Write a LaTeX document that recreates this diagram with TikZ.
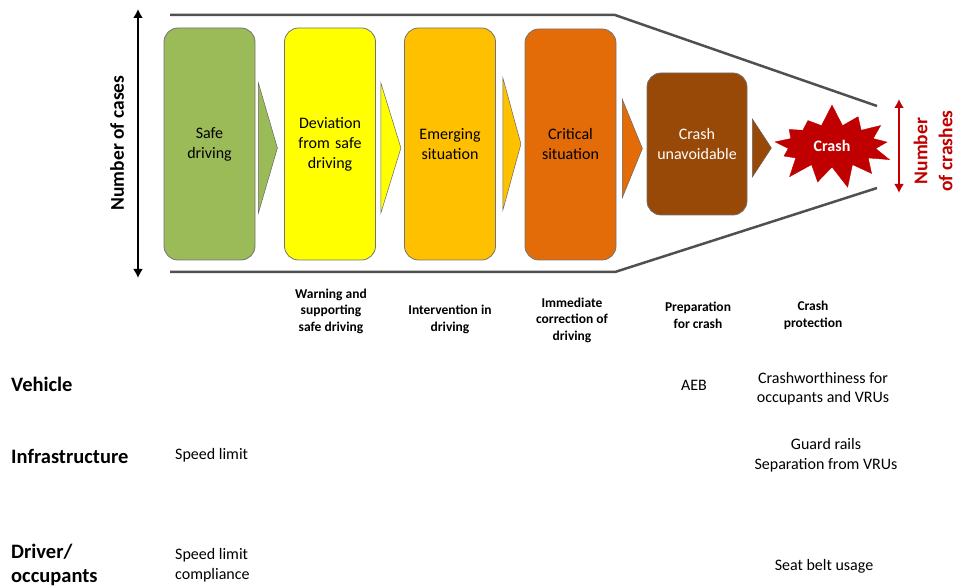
\documentclass[tikz,border=0pt]{standalone}
\usepackage{fontspec}
\setmainfont{Carlito}
\usetikzlibrary{shapes, shapes.symbols, arrows, arrows.meta}
\definecolor{safegreen}{HTML}{9BBB59}
\definecolor{devyellow}{HTML}{FFFF00}
\definecolor{emergamber}{HTML}{FFC000}
\definecolor{critorange}{HTML}{E36C09}
\definecolor{unavbrown}{HTML}{984807}
\definecolor{crashred}{HTML}{C00000}
\definecolor{funnelgray}{HTML}{505050}
\tikzstyle{stage} = [rectangle, draw=black!55, line width=0.8pt, rounded corners=14pt,
text width=86pt, align=center, inner sep=0pt, minimum width=91pt,
font=\fontsize{16}{20}\selectfont]
\tikzstyle{chevron} = [draw=black!60, line width=0.5pt]
\tikzstyle{funnel} = [draw=funnelgray, line width=2.5pt]
\tikzstyle{axis} = [line width=2pt, {Latex[length=9pt,width=10pt]}-{Latex[length=9pt,width=10pt]}]
\tikzstyle{axislabel} = [font=\bfseries\fontsize{19.5}{25}\selectfont, align=center, rotate=90]
\tikzstyle{phase} = [font=\bfseries\fontsize{13.5}{16.5}\selectfont, align=center]
\tikzstyle{actor} = [font=\bfseries\fontsize{20.5}{24}\selectfont, align=left, anchor=west, inner sep=0pt]
\tikzstyle{measure} = [font=\fontsize{16}{19.5}\selectfont, align=center, inner sep=0pt]

\begin{document}
\begin{tikzpicture}[x=1pt, y=-1pt]
	\useasboundingbox (0,0) rectangle (959,588);
	% Funnel outline
	\draw[funnel] (170,15) -- (615,15) -- (877,106);
	\draw[funnel] (170,272) -- (615,272) -- (877,188);
	%
	\draw[axis] (138,9) -- (138,278);
	\node[axislabel] (cases) at (117,143) {Number of cases};
	\draw[axis, crashred] (899,99) -- (899,193);
	\node[axislabel, text=crashred] (crashes) at (933,151) {Number\\of crashes};
	
	% Place stages
	\node [stage, fill=safegreen, minimum height=232pt] (safe) at (209.5,144) {Safe\\driving};
	\node [stage, fill=devyellow, minimum height=232pt] (dev) at (330,144) {Deviation\\from safe\\driving};
	\node [stage, fill=emergamber, minimum height=232pt] (emerg) at (450,144) {Emerging\\situation};
	\node [stage, fill=critorange, minimum height=231pt] (crit) at (570.5,144.5) {Critical\\situation};
	\node [stage, fill=unavbrown, text=white, minimum width=100pt, minimum height=142pt] (unav) at (697,144) {Crash\\unavoidable};
	\node [starburst, starburst points=13, starburst point height=22pt, random starburst=7,
		fill=crashred, draw=crashred, text=white, font=\bfseries\fontsize{16}{20}\selectfont,
		minimum width=132pt, minimum height=86pt, inner sep=0pt] (crash) at (832,146) {Crash};
	%
	\path[chevron, fill=safegreen] (safe.east) ++(3,-61) -- ++(19,65) -- ++(-19,65) -- cycle;
	\path[chevron, fill=devyellow] (dev.east) ++(5,-61) -- ++(20,65) -- ++(-20,65) -- cycle;
	\path[chevron, fill=emergamber] (emerg.east) ++(7,-66) -- ++(18,66) -- ++(-18,66) -- cycle;
	\path[chevron, fill=critorange] (crit.east) ++(6,-45) -- ++(20,49) -- ++(-20,49) -- cycle;
	\path[chevron, fill=unavbrown] (unav.east) ++(5,-25) -- ++(19,29) -- ++(-19,29) -- cycle;
	
	% Phases of intervention
	\node [phase] (warn) at (331,311) {Warning and\\supporting\\safe driving};
	\node [phase] (interv) at (450,319.5) {Intervention in\\driving};
	\node [phase] (immed) at (572,320) {Immediate\\correction of\\driving};
	\node [phase] (prep) at (698,315.5) {Preparation\\for crash};
	\node [phase] (prot) at (813,315.5) {Crash\\protection};
	
	% Actors and measures
	\node [actor] (vehicle) at (11,384) {Vehicle};
	\node [actor] (infra) at (11,456) {Infrastructure};
	\node [actor] (driver) at (11,565) {Driver/\\occupants};
	\node [measure] (aeb) at (694,385) {AEB};
	\node [measure] (worthy) at (823,388.5) {Crashworthiness for\\occupants and VRUs};
	\node [measure, anchor=west] (limit) at (175,455) {Speed limit};
	\node [measure] (rails) at (826,455) {Guard rails\\Separation from VRUs};
	\node [measure, anchor=west, align=left] (comply) at (175,565) {Speed limit\\compliance};
	\node [measure] (belt) at (824,566) {Seat belt usage};
\end{tikzpicture}
\end{document}
